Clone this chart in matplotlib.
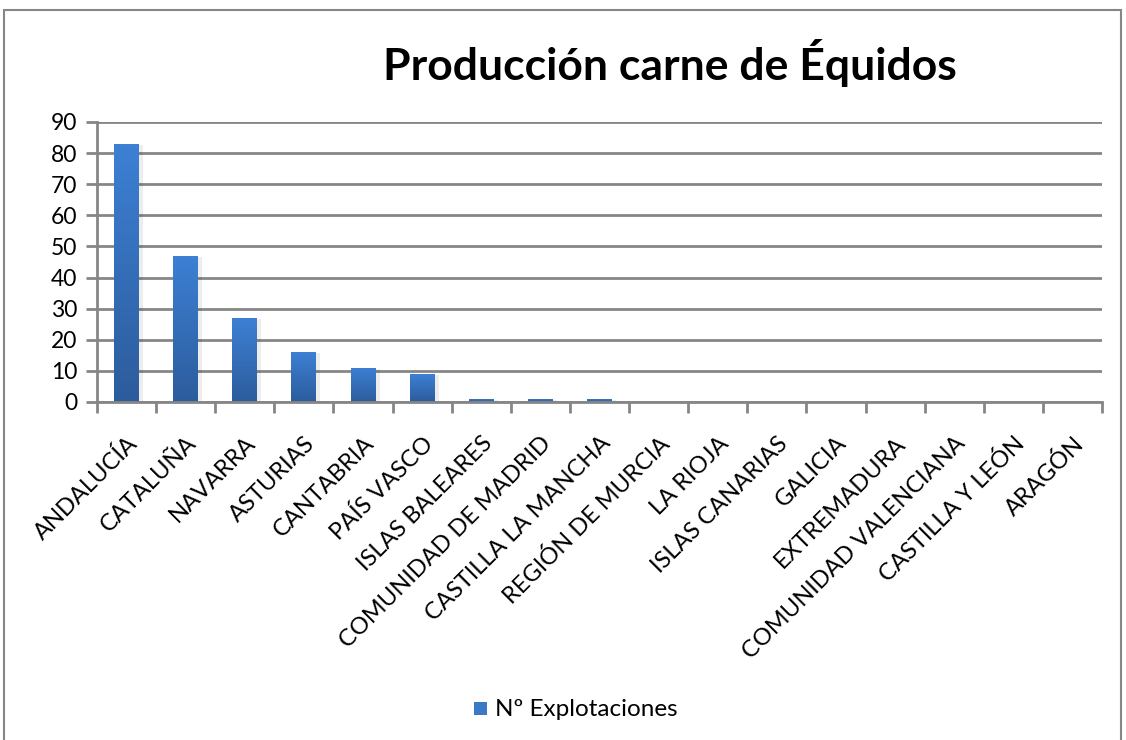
import matplotlib
matplotlib.use("Agg")
import matplotlib.pyplot as plt
import numpy as np
from matplotlib.patches import Rectangle
from matplotlib.colors import LinearSegmentedColormap

categories = ["ANDALUCÍA", "CATALUÑA", "NAVARRA", "ASTURIAS", "CANTABRIA", "PAÍS VASCO",
              "ISLAS BALEARES", "COMUNIDAD DE MADRID", "CASTILLA LA MANCHA", "REGIÓN DE MURCIA",
              "LA RIOJA", "ISLAS CANARIAS", "GALICIA", "EXTREMADURA", "COMUNIDAD VALENCIANA",
              "CASTILLA Y LEÓN", "ARAGÓN"]
values = [83, 47, 27, 16, 11, 9, 1, 1, 1, 0, 0, 0, 0, 0, 0, 0, 0]
series_name = "Nº Explotaciones"
title = "Producción carne de Équidos"
yticks = list(range(0, 100, 10))

plt.rcParams['font.family'] = ['Lato', 'DejaVu Sans']

W, H = 1126, 740
fig = plt.figure(figsize=(W / 100, H / 100), dpi=100)
fig.patch.set_facecolor("white")
# outer border
fig.add_artist(Rectangle((4 / W, -0.01), (1121 - 4) / W, (H - 10) / H + 0.01,
                         transform=fig.transFigure, fill=False, edgecolor="#868686", lw=1.5))

ax = fig.add_axes([97 / W, (H - 402) / H, (1102 - 97) / W, (402 - 122) / H])
n = len(categories)
x = np.arange(n)
bars = ax.bar(x, values, width=0.42, color="#3A78C8", zorder=3)

cmap = LinearSegmentedColormap.from_list("g", ["#2C5C9C", "#3D80D4"])
grad = np.linspace(0, 1, 256).reshape(-1, 1)
for b in bars:
    h = b.get_height()
    if h <= 0:
        continue
    x0 = b.get_x()
    w = b.get_width()
    # soft shadow
    ax.add_patch(Rectangle((x0 + 0.03, 0), w + 0.04, h - 0.3, color="#000000", alpha=0.07,
                           zorder=2, lw=0))
    im = ax.imshow(grad, extent=(x0, x0 + w, 0, h), origin="lower", aspect="auto",
                   cmap=cmap, zorder=4)
    im.set_clip_path(b)

ax.set_xlim(-0.5, n - 0.5)
ax.set_ylim(0, 90)
ax.set_yticks(yticks)
ax.set_yticklabels([str(t) for t in yticks], fontsize=16.5)
ax.yaxis.grid(True, color="#868686", lw=2, zorder=1)
ax.set_axisbelow(True)

for s in ["top", "right"]:
    ax.spines[s].set_visible(False)
for s in ["left", "bottom"]:
    ax.spines[s].set_color("#868686")
    ax.spines[s].set_linewidth(2)
    ax.spines[s].set_zorder(5)

ax.tick_params(axis="y", length=8, width=2, color="#868686", pad=6)
ax.set_xticks(np.arange(-0.5, n, 1.0), minor=False)
ax.set_xticklabels([])
ax.tick_params(axis="x", which="major", length=8, width=2, color="#868686")
ax.set_xticks(x, minor=True)
ax.set_xticklabels(categories, minor=True, rotation=45, ha="right", va="top",
                   rotation_mode="anchor", fontsize=17)
ax.tick_params(axis="x", which="minor", length=0, pad=22)

fig.text(670 / W, 1 - 63 / H, title, fontsize=32, fontweight="bold", ha="center", va="center")

# legend
fig.add_artist(Rectangle((474 / W, 1 - 715 / H), 13 / W, 13 / H, transform=fig.transFigure,
                         facecolor="#3A78C8", edgecolor="none"))
fig.text(495 / W, 1 - 710 / H, series_name, fontsize=17.5, ha="left", va="center")

fig.savefig("out.png", dpi=100, facecolor="white")
